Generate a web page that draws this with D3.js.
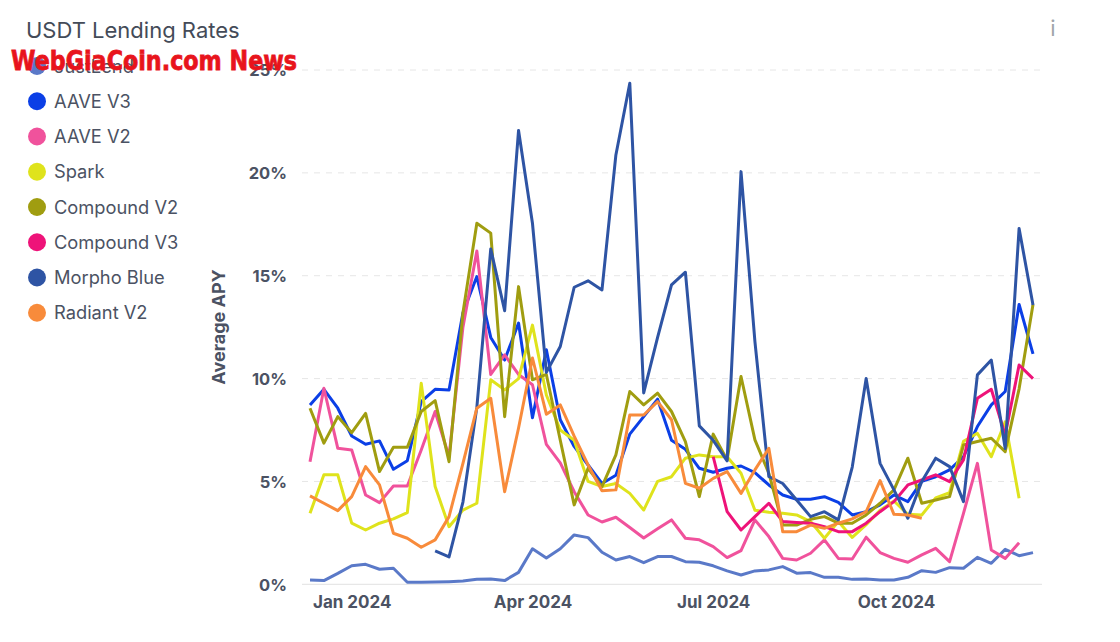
<!DOCTYPE html>
<html>
<head>
<meta charset="utf-8">
<script src="https://cdn.jsdelivr.net/npm/d3@7"></script>
<style>
  body { margin: 0; background: #fff; }
  svg { display: block; font-family: Inter, "Noto Sans", sans-serif; }
</style>
</head>
<body>
<svg id="chart" width="1120" height="642"></svg>
<script>
// weekly points, first Monday of the series and count
var startWeek = new Date(2023, 11, 11);
var weekCount = 53;

var yTicks = [0, 5, 10, 15, 20, 25];
var xTicks = [new Date(2024, 0, 1), new Date(2024, 3, 1), new Date(2024, 6, 1), new Date(2024, 9, 1)];

var seriesNames = ["JustLend", "AAVE V3", "AAVE V2", "Spark", "Compound V2", "Compound V3", "Morpho Blue", "Radiant V2"];
var seriesColors = ["#5a79c8", "#0b3fe6", "#f0529c", "#dfe31c", "#a09d10", "#ee1379", "#2e54a4", "#f88b3b"];

var justLend = [0.21, 0.18, 0.53, 0.9, 0.97, 0.73, 0.78, 0.1, 0.1, 0.11, 0.13, 0.16, 0.24, 0.26, 0.18, 0.58, 1.73, 1.28, 1.73, 2.4,
    2.27, 1.56, 1.18, 1.35, 1.05, 1.35, 1.35, 1.1, 1.07, 0.9, 0.65, 0.45, 0.65, 0.7, 0.86, 0.54, 0.57, 0.34, 0.34, 0.24,
    0.26, 0.21, 0.21, 0.34, 0.66, 0.58, 0.81, 0.78, 1.31, 1.02, 1.7, 1.39, 1.54];
var aaveV3 = [8.72, 9.48, 8.56, 7.21, 6.81, 6.97, 5.59, 6.01, 8.88, 9.48, 9.45, 13.2, 14.96, 12.0, 10.9, 12.7, 8.1, 11.4, 8.0, 6.7,
    5.8, 4.9, 5.3, 7.3, 8.15, 9.0, 7.0, 6.56, 5.64, 5.45, 5.64, 5.75, 5.43, 4.83, 4.34, 4.13, 4.13, 4.26, 3.98, 3.37,
    3.53, 3.86, 4.34, 4.02, 5.0, 5.23, 5.56, 6.2, 7.67, 8.72, 9.37, 13.6, 11.2];
var aaveV2 = [5.96, 9.53, 6.61, 6.53, 4.34, 3.97, 4.78, 4.78, 6.53, 8.4, 6.2, 12.5, 16.2, 10.2, 11.15, 10.2, 9.7, 6.8, 5.9, 4.5,
    3.37, 3.03, 3.26, 2.76, 2.25, 2.7, 3.13, 2.24, 2.16, 1.83, 1.3, 1.64, 3.13, 2.32, 1.26, 1.18, 1.51, 2.16, 1.26, 1.23,
    2.29, 1.54, 1.26, 1.07, 1.43, 1.75, 1.1, 3.45, 5.88, 1.67, 1.26, 2.02, null];
var spark = [3.45, 5.32, 5.32, 2.97, 2.64, 2.97, 3.18, 3.48, 9.77, 4.75, 2.8, 3.61, 3.94, 9.94, 9.45, 10.0, 12.6, 9.2, 7.5, 7.0,
    5.0, 4.75, 4.9, 4.42, 3.61, 5.0, 5.23, 6.13, 6.29, 6.2, 6.2, 5.4, 3.6, 3.5, 3.45, 3.37, 3.05, 2.24, 3.05, 2.28,
    2.9, 3.6, 4.05, 3.4, 3.37, 4.2, 4.45, 6.95, 7.34, 6.2, 7.9, 4.18, null];
var compoundV2 = [8.56, 6.86, 8.15, 7.37, 8.31, 5.48, 6.66, 6.66, 8.4, 8.93, 5.96, 13.2, 17.55, 17.07, 8.15, 14.47, 9.94, 10.2, 7.0, 3.86,
    5.64, 4.75, 6.29, 9.37, 8.72, 9.29, 8.4, 6.94, 4.26, 7.3, 6.05, 10.1, 7.02, 5.4, 2.88, 2.88, 3.16, 3.29, 2.97, 2.97,
    3.37, 3.94, 4.59, 6.13, 3.94, 4.1, 4.26, 6.77, 6.94, 7.1, 6.45, 9.5, 13.6];
var compoundV3 = [null, null, null, null, null, null, null, null, null, null, null, null, null, null, null, null, null, null, null, null,
    null, null, null, null, null, null, null, null, null, 6.2, 3.53, 2.64, 3.29, 3.94, 3.05, 3.01, 2.97, 2.8, 2.56, 2.56,
    2.97, 3.53, 4.02, 4.83, 5.07, 5.32, 4.99, 6.05, 9.04, 9.48, 7.26, 10.66, 10.0];
var morphoBlue = [null, null, null, null, null, null, null, null, null, 1.62, 1.33, 4.0, 8.6, 16.3, 13.3, 22.06, 17.55, 10.3, 11.56, 14.44,
    14.75, 14.31, 20.87, 24.36, 9.3, 12.0, 14.55, 15.17, 7.7, 7.0, 6.0, 20.06, 11.8, 5.24, 4.9, 4.1, 3.29, 3.53, 3.13, 5.7,
    10.0, 5.88, 4.59, 3.21, 5.0, 6.13, 5.72, 4.02, 10.18, 10.9, 6.6, 17.3, 13.58];
var radiantV2 = [4.3, 3.94, 3.58, 4.26, 5.72, 4.83, 2.48, 2.24, 1.8, 2.16, 3.29, 5.88, 8.56, 9.04, 4.5, 7.6, 11.0, 8.27, 8.72, 7.2,
    5.8, 4.55, 4.59, 8.23, 8.23, 8.88, 8.0, 4.91, 4.67, 5.15, 5.48, 4.42, 5.56, 6.61, 2.56, 2.56, 2.88, 2.72, 2.97, 3.18,
    3.53, 5.04, 3.4, 3.37, 3.21, null, null, null, null, null, null, null, null];

var seriesValues = [justLend, aaveV3, aaveV2, spark, compoundV2, compoundV3, morphoBlue, radiantV2];

var weeks = d3.timeMonday.range(startWeek, d3.timeWeek.offset(startWeek, weekCount));

var svg = d3.select("#chart");
var textColor = "#4b5263";

var x = d3.scaleTime()
    .domain([weeks[0], weeks[weeks.length - 1]])
    .range([310, 1033]);
var y = d3.scaleLinear()
    .domain([0, 25])
    .range([584.3, 70]);

// grid
svg.append("g")
    .selectAll("line")
    .data(yTicks.filter(function (d) { return d > 0; }))
    .enter().append("line")
    .attr("x1", 302)
    .attr("x2", 1040)
    .attr("y1", function (d) { return y(d); })
    .attr("y2", function (d) { return y(d); })
    .style("stroke", "#e6e6e6")
    .style("stroke-width", "1px")
    .style("stroke-dasharray", "6,6");

svg.append("line")
    .attr("x1", 302).attr("x2", 1042)
    .attr("y1", y(0)).attr("y2", y(0))
    .style("stroke", "#e2e2e2")
    .style("stroke-width", "1px");

// y axis
var yAxis = svg.append("g")
    .attr("transform", "translate(287,0)")
    .call(d3.axisLeft(y).tickValues(yTicks).tickSize(0).tickPadding(0).tickFormat(function (d) { return d + "%"; }));
yAxis.select(".domain").remove();
yAxis.selectAll("text")
    .attr("dy", "0.36em")
    .style("font-family", "Inter, sans-serif")
    .style("font-size", "16.5px")
    .style("font-weight", "700")
    .style("fill", textColor);

// x axis
var xAxis = svg.append("g")
    .attr("transform", "translate(0," + y(0) + ")")
    .call(d3.axisBottom(x).tickValues(xTicks).tickSize(0).tickPadding(0).tickFormat(d3.timeFormat("%b %Y")));
xAxis.select(".domain").remove();
xAxis.selectAll("text")
    .attr("dy", "1.4em")
    .style("font-family", "Inter, sans-serif")
    .style("font-size", "17px")
    .style("font-weight", "700")
    .style("fill", textColor);

svg.append("text")
    .attr("transform", "translate(225,327) rotate(-90)")
    .attr("text-anchor", "middle")
    .style("font-size", "18px")
    .style("font-weight", "700")
    .style("fill", textColor)
    .text("Average APY");

// lines
var line = d3.line()
    .defined(function (d) { return d != null; })
    .x(function (d, i) { return x(weeks[i]); })
    .y(function (d) { return y(d); });

svg.append("g")
    .selectAll("path")
    .data(seriesValues)
    .enter().append("path")
    .attr("d", line)
    .style("fill", "none")
    .style("stroke", function (d, i) { return seriesColors[i]; })
    .style("stroke-width", "3px")
    .style("stroke-linejoin", "round");

// title
svg.append("text")
    .attr("x", 26)
    .attr("y", 38)
    .style("font-size", "22px")
    .style("fill", "#444b58")
    .text("USDT Lending Rates");

// legend
var legend = svg.append("g")
    .selectAll(".item")
    .data(seriesNames)
    .enter().append("g")
    .attr("class", "item")
    .attr("transform", function (d, i) { return "translate(37," + (66 + i * 35.25) + ")"; });

legend.append("circle")
    .attr("r", 9)
    .style("fill", function (d, i) { return seriesColors[i]; });

legend.append("text")
    .attr("x", 17)
    .attr("dy", "0.36em")
    .style("font-size", "18.3px")
    .style("fill", textColor)
    .text(function (d) { return d; });

// info icon
svg.append("text")
    .attr("x", 1053)
    .attr("y", 36)
    .attr("text-anchor", "middle")
    .style("font-size", "22px")
    .style("fill", "#a0a4aa")
    .text("i");

// watermark over the top of the legend
svg.append("text")
    .attr("x", 11)
    .attr("y", 70)
    .attr("textLength", 286)
    .attr("lengthAdjust", "spacingAndGlyphs")
    .style("font-family", "'DejaVu Sans', sans-serif")
    .style("font-size", "27px")
    .style("font-weight", "900")
    .style("fill", "#e8141c")
    .style("stroke", "#e8141c")
    .style("stroke-width", "0.8px")
    .text("WebGiaCoin.com News");
</script>
</body>
</html>
